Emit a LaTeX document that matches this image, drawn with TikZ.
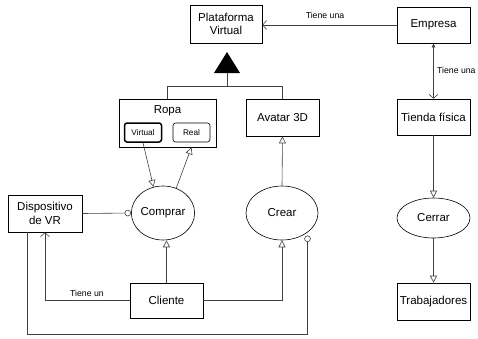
\documentclass[tikz,border=0pt]{standalone}
\usepackage{fontspec}
\setmainfont{Liberation Sans}
\usetikzlibrary{arrows.meta,shapes.geometric}
\begin{document}
\begin{tikzpicture}[x=1pt,y=-1pt,
  box/.style={draw=black, line width=0.6pt, rectangle, inner sep=1pt,
    font=\fontsize{11.5}{13.5}\selectfont, align=center},
  uc/.style={draw=black, line width=0.6pt, ellipse, inner sep=0pt,
    font=\fontsize{11.5}{13.5}\selectfont},
  tag/.style={draw=black, rectangle, rounded corners=2.5pt, inner sep=0pt,
    minimum width=37pt, minimum height=19pt, font=\fontsize{8.2}{10}\selectfont},
  lbl/.style={font=\fontsize{8.7}{10}\selectfont, inner sep=0pt},
  conn/.style={draw=black!75, line width=0.6pt},
  tri/.style={conn, -{Triangle[open, length=7pt, width=7pt]}},
  vee/.style={conn, -{Straight Barb[length=4pt, width=9pt, line width=0.6pt]}},
  circ/.style={conn, -{Circle[open, length=6.5pt, line width=0.6pt]}}
]
\useasboundingbox (0,0) rectangle (478,338);

% class boxes
\node[box, minimum width=72pt, minimum height=38pt] (pv) at (226,24) {Plataforma\\Virtual};
\node[box, minimum width=73pt, minimum height=36pt] (emp) at (433.5,25) {Empresa};
\node[box, minimum width=97pt, minimum height=48pt] (ropa) at (167.5,123) {};
\node[font=\fontsize{11.5}{13.5}\selectfont, inner sep=0pt] (ropat) at (167.5,111) {Ropa};
\node[tag, line width=1.5pt] (virt) at (143,132.5) {Virtual};
\node[tag, line width=0.6pt] (real) at (191.5,132.5) {Real};
\node[box, minimum width=73pt, minimum height=37pt] (avatar) at (282.5,117.5) {Avatar 3D};
\node[box, minimum width=74pt, minimum height=37pt] (disp) at (45,213.5) {Dispositivo\\de VR};
\node[box, minimum width=73pt, minimum height=35pt] (cliente) at (166.5,300.5) {Cliente};
\node[box, minimum width=73pt, minimum height=36pt] (tienda) at (433.5,117) {Tienda física};
\node[box, minimum width=73pt, minimum height=37pt] (trab) at (433.5,301.5) {Trabajadores};

% use cases
\node[uc, minimum width=62pt, minimum height=54pt] (comprar) at (163,213) {Comprar};
\node[uc, minimum width=72pt, minimum height=54pt] (crear) at (282,213) {Crear};
\node[uc, minimum width=73pt, minimum height=40pt] (cerrar) at (433.5,218) {Cerrar};

% generalisation triangle under the platform
\coordinate (apex) at (227,52);
\coordinate (tribase) at (227,73);
\fill[black] (apex) -- (240,73) -- (214,73) -- cycle;
\draw[conn] (tribase) -- (227,87);
\draw[conn] (ropa.north) -- ++(0,-12) -| (avatar.north);

% associations
\draw[vee] (emp.west) -- (pv.east |- emp.west);
\node[lbl] (t1) at (325,15) {Tiene una};
\draw[conn, {Latex[length=4pt, width=4pt]}-{Straight Barb[length=4pt, width=9pt, line width=0.6pt]}]
  (emp.south) -- (tienda.north);
\node[lbl, anchor=west] (t2) at (437,70) {Tiene una};

\draw[tri] (virt.south) -- (comprar.110);
\draw[tri] (comprar.62) -- (real.south |- ropa.south);
\draw[tri] (crear.north) -- (avatar.south);
\draw[circ] (disp.east) -- (comprar.west);
\draw[tri] (cliente.north) -- (cliente.north |- comprar.south);
\draw[tri] (cliente.east) -| (crear.south);
\draw[vee] (cliente.west) -| (disp.south);
\node[lbl] (t3) at (87,293) {Tiene un};

% loop from the device round to the creation use case
\coordinate (loopA) at (27,334);
\coordinate (crearC) at (307.5,235.5);
\draw[circ] (disp.south -| loopA) -- (loopA) -| (crearC);

% store chain
\draw[tri] (tienda.south) -- (cerrar.north);
\draw[tri] (cerrar.south) -- (trab.north);
\end{tikzpicture}
\end{document}
